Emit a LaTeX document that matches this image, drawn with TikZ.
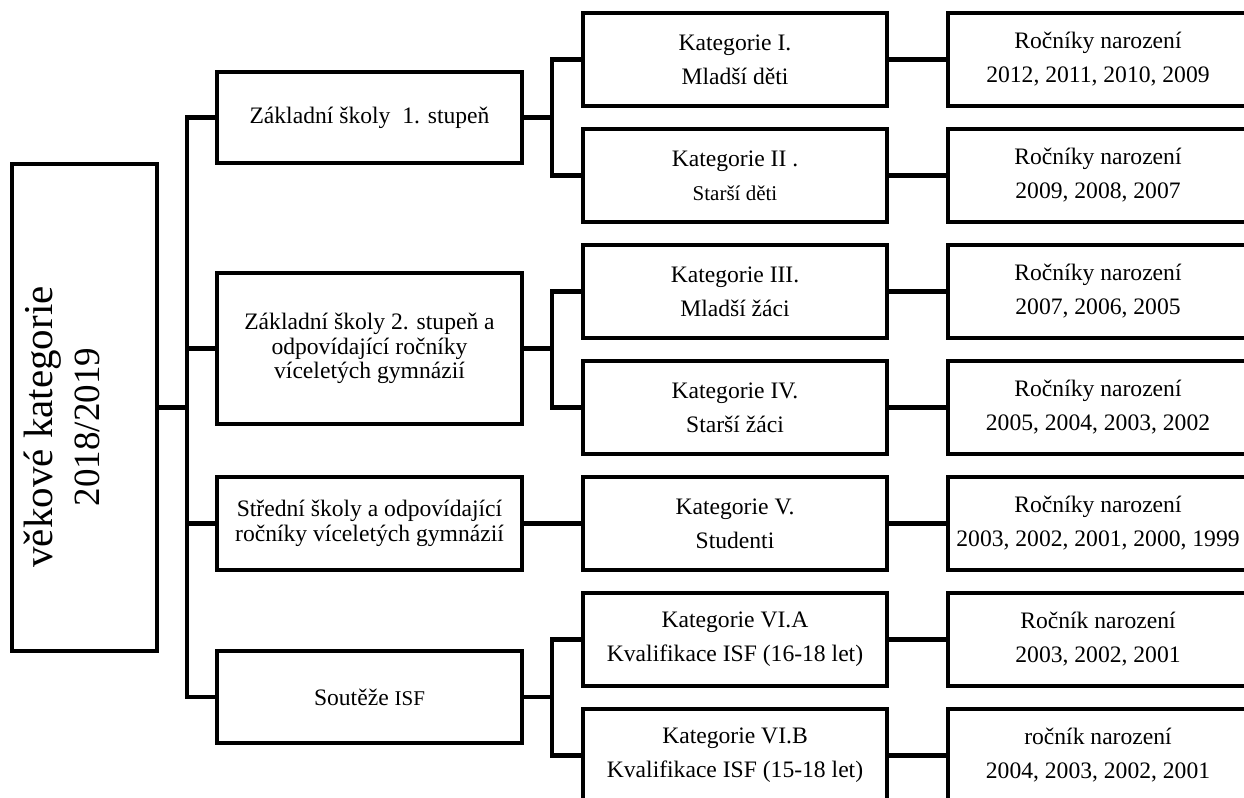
\documentclass[tikz,border=0pt]{standalone}
\usepackage{fontspec}
\setmainfont{Liberation Serif}

\begin{document}
\begin{tikzpicture}[x=0.5pt,y=-0.5pt,
  box/.style={draw, line width=2.4pt, align=center, inner sep=1pt, font=\fontsize{11.8}{17}\selectfont},
  school/.style={box, minimum width=152.5pt, font=\fontsize{11.8}{12.4}\selectfont},
  kat/.style={box, minimum width=152pt, minimum height=46.5pt},
  roc/.style={box, minimum width=150pt, minimum height=46.5pt},
  link/.style={line width=2.4pt}]
\useasboundingbox (0,0) rectangle (1244,798);
\clip (0,0) rectangle (1244,798);
\node [box, minimum width=72.5pt, minimum height=243.5pt] (root) at (84.5,407.5) {};
\node [rotate=90, align=center, inner sep=0pt, font=\fontsize{20.5}{23.5}\selectfont] (rootlbl) at (62,427)
  {věkové kategorie\\{\fontsize{18.5}{23.5}\selectfont 2018/2019}};
\node [school, minimum height=45.5pt] (s1) at (369.5,117.5) {Základní školy~~1. stupeň};
\node [school, minimum height=75.5pt] (s2) at (369.5,348.5) {Základní školy 2. stupeň a\\odpovídající ročníky\\víceletých gymnázií};
\node [school, minimum height=46.5pt] (s3) at (369.5,523.5) {Střední školy a odpovídající\\ročníky víceletých gymnázií};
\node [school, minimum height=46pt] (s4) at (369.5,697) {Soutěže {\fontsize{10.5}{12.4}\selectfont ISF}};
\node [kat] (k1) at (735,59.5) {Kategorie I.\\Mladší děti};
\node [kat] (k2) at (735,175.5) {Kategorie II .\\{\fontsize{10.5}{17}\selectfont Starší děti}};
\node [kat] (k3) at (735,291.5) {Kategorie III.\\Mladší žáci};
\node [kat] (k4) at (735,407.5) {Kategorie IV.\\Starší žáci};
\node [kat] (k5) at (735,523.5) {Kategorie V.\\Studenti};
\node [kat] (k6) at (735,639.5) {Kategorie VI.A\\Kvalifikace ISF (16-18 let)};
\node [kat] (k7) at (735,755.5) {Kategorie VI.B\\Kvalifikace ISF (15-18 let)};
\node [roc] (r1) at (1098,59.5) {Ročníky narození\\2012, 2011, 2010, 2009};
\node [roc] (r2) at (1098,175.5) {Ročníky narození\\2009, 2008, 2007};
\node [roc] (r3) at (1098,291.5) {Ročníky narození\\2007, 2006, 2005};
\node [roc] (r4) at (1098,407.5) {Ročníky narození\\2005, 2004, 2003, 2002};
\node [roc] (r5) at (1098,523.5) {Ročníky narození\\2003, 2002, 2001, 2000, 1999};
\node [roc] (r6) at (1098,639.5) {Ročník narození\\2003, 2002, 2001};
\node [roc] (r7) at (1098,755.5) {ročník narození\\2004, 2003, 2002, 2001};
\coordinate (t1) at (187,407.5);
\draw [link] (root) -- (t1);
\draw [link] (s1.west) -| (t1) |- (s4.west);
\draw [link] (s2.west) -- (s2.west -| t1);
\draw [link] (s3.west) -- (s3.west -| t1);
\coordinate (t2) at (552,117.5);
\draw [link] (s1) -- (t2);
\draw [link] (k1.west) -| (t2) |- (k2.west);
\coordinate (t3) at (552,348.5);
\draw [link] (s2) -- (t3);
\draw [link] (k3.west) -| (t3) |- (k4.west);
\draw [link] (s3) -- (k5);
\coordinate (t4) at (552,697);
\draw [link] (s4) -- (t4);
\draw [link] (k6.west) -| (t4) |- (k7.west);
\draw [link] (k1) -- (r1);
\draw [link] (k2) -- (r2);
\draw [link] (k3) -- (r3);
\draw [link] (k4) -- (r4);
\draw [link] (k5) -- (r5);
\draw [link] (k6) -- (r6);
\draw [link] (k7) -- (r7);
\end{tikzpicture}
\end{document}
